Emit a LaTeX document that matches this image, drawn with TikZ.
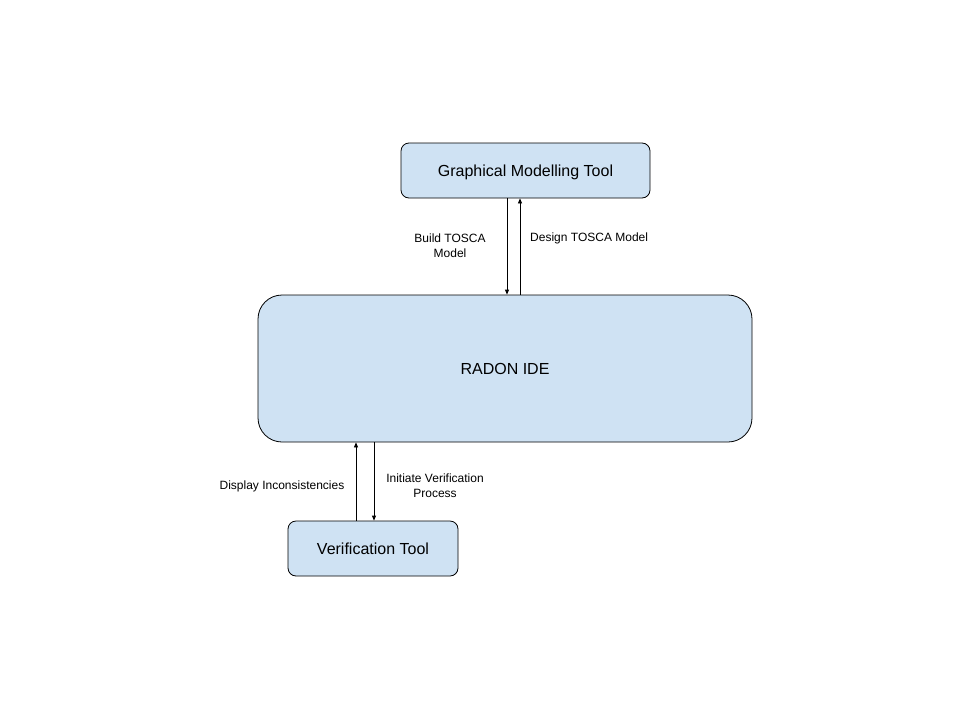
\documentclass[tikz,border=0pt]{standalone}
\usepackage{fontspec}
\setmainfont{Liberation Sans}
\usetikzlibrary{arrows.meta,calc}
\definecolor{boxfill}{HTML}{CFE2F3}
\begin{document}
\begin{tikzpicture}[x=1pt,y=-1pt,
  box/.style={draw=black,fill=boxfill,line width=0.8pt,font=\fontsize{16}{19}\selectfont,inner sep=0pt,text height=12pt,text depth=0pt},
  arr/.style={-{Triangle[length=5pt,width=4pt]},line width=0.8pt},
  lbl/.style={font=\fontsize{12}{15}\selectfont,align=center,inner sep=0pt}]
\useasboundingbox (0,0) rectangle (960,720);
\node[box,rounded corners=8pt,minimum width=249pt,minimum height=55pt] (g) at (525.5,170.5) {Graphical Modelling Tool};
\node[box,rounded corners=24pt,minimum width=494pt,minimum height=147pt] (r) at (505,368.5) {RADON IDE};
\node[box,rounded corners=8pt,minimum width=170pt,minimum height=55pt] (v) at (373,548.5) {Verification Tool};
\coordinate (x1) at (507,0);
\coordinate (x2) at (520,0);
\coordinate (x3) at (356,0);
\coordinate (x4) at (374,0);
\draw[arr] (g.south -| x1) -- (r.north -| x1);
\draw[arr] (r.north -| x2) -- (g.south -| x2);
\draw[arr] (v.north -| x3) -- (r.south -| x3);
\draw[arr] (r.south -| x4) -- (v.north -| x4);
\node[lbl] (l1) at (450,245.5) {Build TOSCA\\Model};
\node[lbl,anchor=west] (l2) at (530,238.5) {Design TOSCA Model};
\node[lbl] (l3) at (282,486.5) {Display Inconsistencies};
\node[lbl] (l4) at (435,486) {Initiate Verification\\Process};
\end{tikzpicture}
\end{document}
